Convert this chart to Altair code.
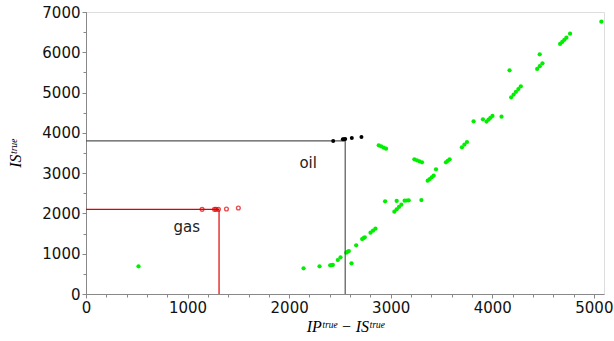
import altair as alt
import pandas as pd

# ---- data ----
green_pts = [
    (517, 687), (2142, 638), (2299, 687),
    (2404, 712), (2418, 716), (2430, 720),
    (2479, 844), (2506, 911),
    (2562, 1025), (2575, 1046), (2588, 1067),
    (2614, 762), (2660, 1208),
    (2719, 1365), (2732, 1386), (2745, 1407),
    (2801, 1522), (2826, 1572), (2850, 1621),
    (2945, 2301),
    (3036, 2044), (3059, 2102), (3082, 2160), (3105, 2218),
    (3059, 2309),
    (3137, 2317), (3157, 2321), (3177, 2325),
    (3302, 2333),
    (2882, 3691), (2906, 3663), (2930, 3635), (2954, 3607),
    (3233, 3342), (3258, 3317), (3283, 3293), (3308, 3268),
    (3364, 2812), (3384, 2854), (3404, 2896), (3423, 2937),
    (3446, 3094),
    (3544, 3268), (3562, 3305), (3580, 3342),
    (3701, 3642), (3726, 3708), (3751, 3773),
    (3816, 4287), (3908, 4336),
    (3943, 4279), (3963, 4326), (3982, 4372), (4002, 4419),
    (4091, 4402), (4170, 5553),
    (4186, 4883), (4210, 4951), (4233, 5020), (4257, 5088), (4281, 5156),
    (4442, 5586), (4468, 5656), (4494, 5727),
    (4467, 5950),
    (4668, 6206), (4689, 6258), (4710, 6310), (4730, 6362),
    (4766, 6461), (5074, 6759),
]
green_x = [p[0] for p in green_pts]
green_y = [p[1] for p in green_pts]

oil_x = [2434, 2529, 2540, 2552, 2617, 2712]
oil_y = [3798, 3840, 3844, 3848, 3872, 3897]

gas_x = [1143, 1265, 1280, 1304, 1383, 1500]
gas_y = [2102, 2102, 2102, 2102, 2110, 2135]

gas_ref = (1310, 2100)
oil_ref = (2552, 3800)

labels = ["gas", "oil"]
label_x = [993, 2187]
label_y = [1675, 3260]

x_major = list(range(0, 5001, 1000))
x_minor = list(range(0, 5001, 200))
y_major = list(range(0, 7001, 1000))
y_minor = list(range(0, 7001, 500))

W, H = 518, 282
xs = alt.Scale(domain=[0, 5100], nice=False, zero=False)
ys = alt.Scale(domain=[0, 7000], nice=False, zero=False)

FONT = "DejaVu Sans"
SERIF = "Liberation Serif"

common = dict(
    titleFont=SERIF, titleFontStyle="italic", titleFontSize=16, titleFontWeight="normal",
    labelFont=FONT, labelFontSize=15, labelColor="#111111", labelPadding=2,
    labelFlush=False, grid=False, format="d", tickSize=4,
)
x_axis = alt.Axis(values=x_major, title="IPᵗʳᵘᵉ − ISᵗʳᵘᵉ", titlePadding=3, orient="bottom", **common)
y_axis = alt.Axis(values=y_major, title="ISᵗʳᵘᵉ", titlePadding=18, orient="left", **common)
x_minor_axis = alt.Axis(values=x_minor, labels=False, title=None, domain=False, grid=False,
                        tickSize=3, orient="bottom")
y_minor_axis = alt.Axis(values=y_minor, labels=False, title=None, domain=False, grid=False,
                        tickSize=3, orient="left")

green_df = pd.DataFrame({"x": green_x, "y": green_y})
oil_df = pd.DataFrame({"x": oil_x, "y": oil_y})
gas_df = pd.DataFrame({"x": gas_x, "y": gas_y})
lab_df = pd.DataFrame({"t": labels, "x": label_x, "y": label_y})

hrules = pd.DataFrame({
    "x": [0, 0], "x2": [gas_ref[0], oil_ref[0]],
    "y": [gas_ref[1], oil_ref[1]], "c": ["gas", "oil"],
})
vrules = pd.DataFrame({
    "x": [gas_ref[0], oil_ref[0]], "y": [0, 0],
    "y2": [gas_ref[1], oil_ref[1]], "c": ["gas", "oil"],
})
rule_color = alt.Color("c:N", scale=alt.Scale(domain=["gas", "oil"], range=["#e00000", "#555555"]), legend=None)

minor = alt.Chart(green_df).mark_circle(opacity=0).encode(
    x=alt.X("x:Q", scale=xs, axis=x_minor_axis),
    y=alt.Y("y:Q", scale=ys, axis=y_minor_axis),
)
green = alt.Chart(green_df).mark_circle(size=18, color="#00ee00", opacity=1).encode(
    x=alt.X("x:Q", scale=xs, axis=x_axis),
    y=alt.Y("y:Q", scale=ys, axis=y_axis),
)
h = alt.Chart(hrules).mark_rule(strokeWidth=1.2).encode(
    x=alt.X("x:Q", scale=xs, axis=None), x2="x2:Q", y=alt.Y("y:Q", scale=ys, axis=None), color=rule_color)
v = alt.Chart(vrules).mark_rule(strokeWidth=1.2).encode(
    x=alt.X("x:Q", scale=xs, axis=None), y=alt.Y("y:Q", scale=ys, axis=None), y2="y2:Q", color=rule_color)
oil = alt.Chart(oil_df).mark_circle(size=16, color="black", opacity=1).encode(
    x=alt.X("x:Q", scale=xs, axis=None), y=alt.Y("y:Q", scale=ys, axis=None))
gas = alt.Chart(gas_df).mark_point(shape="circle", size=14, color="#e00000", filled=False, strokeWidth=1.4).encode(
    x=alt.X("x:Q", scale=xs, axis=None), y=alt.Y("y:Q", scale=ys, axis=None))
txt = alt.Chart(lab_df).mark_text(font=FONT, fontSize=15, color="#222222", align="center", baseline="middle").encode(
    x=alt.X("x:Q", scale=xs, axis=None), y=alt.Y("y:Q", scale=ys, axis=None), text="t:N")

chart = alt.layer(minor, green, h, v, oil, gas, txt).resolve_axis(
    x="independent", y="independent"
).properties(
    width=W, height=H,
    autosize=alt.AutoSizeParams(type="none"),
    padding={"left": 86, "top": 12, "right": 10, "bottom": 47},
).configure_view(
    stroke="black", strokeWidth=1.5
).configure_axis(
    domainColor="#333333", domainWidth=2, tickColor="#333333", tickWidth=1,
    titleColor="#333333",
).configure(background="white")

chart.save("out.html", embed_options={"renderer": "svg", "actions": False})
